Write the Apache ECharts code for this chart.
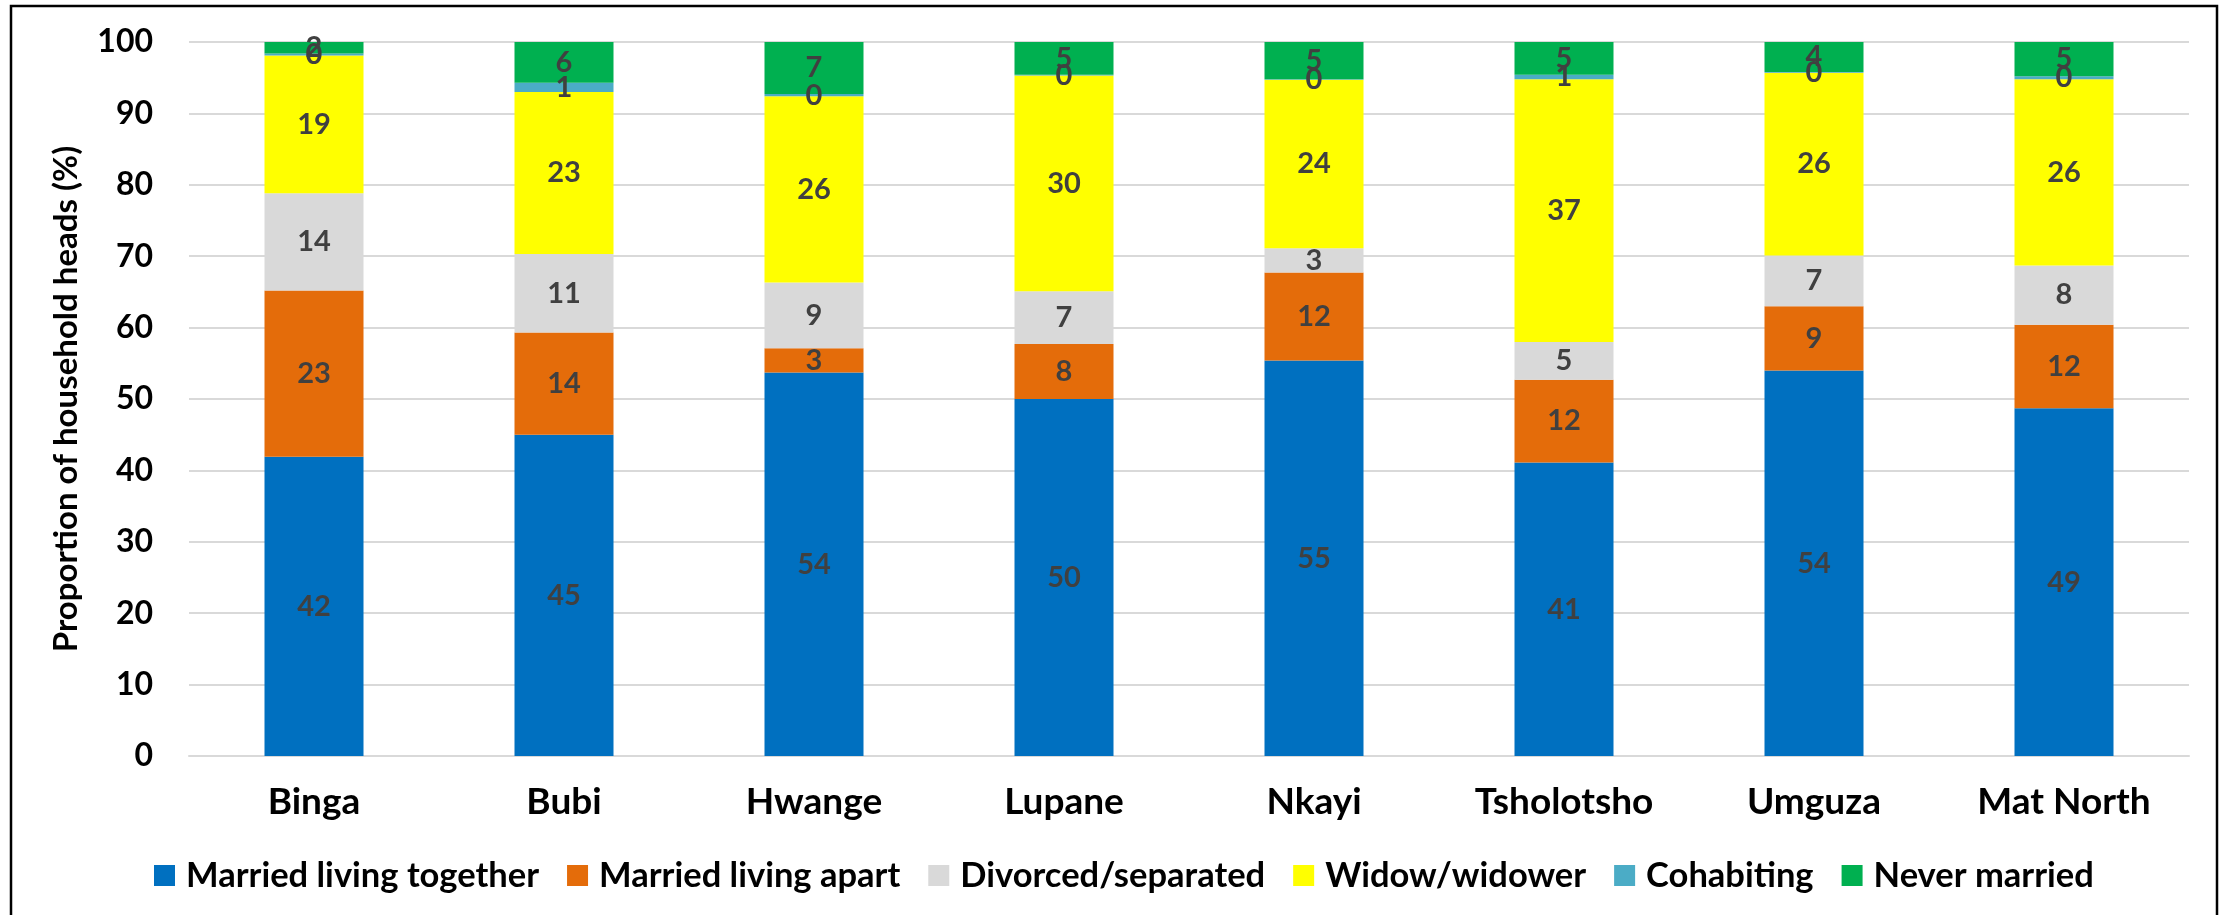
<!DOCTYPE html>
<html>
<head>
<meta charset="utf-8">
<title>Marital status of household heads</title>
<script src="https://cdn.jsdelivr.net/npm/echarts@6/dist/echarts.min.js"></script>
<style>
    html, body { margin: 0; padding: 0; background: #fff; }
    #myChart { width: 2224px; height: 915px; }
</style>
</head>
<body>
<div id="myChart"></div>
<script>
    /////////////////////////
    // data (%)

    var categories = ['Binga', 'Bubi', 'Hwange', 'Lupane', 'Nkayi', 'Tsholotsho', 'Umguza', 'Mat North'];

    var marriedTogether = [41.9, 45.0, 53.7, 50.0, 55.4, 41.1, 54.0, 48.7];
    var marriedApart    = [23.3, 14.3, 3.4, 7.7, 12.3, 11.6, 9.0, 11.7];
    var divorced        = [13.6, 11.0, 9.2, 7.4, 3.4, 5.3, 7.1, 8.3];
    var widowed         = [19.3, 22.7, 26.1, 30.2, 23.6, 36.8, 25.6, 26.1];
    var cohabiting      = [0.3, 1.3, 0.3, 0.1, 0.1, 0.6, 0.1, 0.4];
    var neverMarried    = [1.6, 5.7, 7.3, 4.6, 5.2, 4.6, 4.2, 4.8];

    var yTicks = { min: 0, max: 100, interval: 10 };

    /////////////////////////

    var myChart;
    var FONT = 'Lato';

    function getMyChart() {
        if (myChart != undefined) {
            return myChart;
        }
        myChart = echarts.init(document.getElementById('myChart'), null, { renderer: 'canvas' });
        return myChart;
    }

    // one stacked segment
    function makeSeries(name, data, color) {
        return {
            name: name,
            type: 'bar',
            stack: 'total',
            barWidth: 99,
            data: data,
            itemStyle: { color: color },
            label: {
                show: true,
                position: 'inside',
                color: '#404040',
                fontFamily: FONT,
                fontWeight: 'bold',
                fontSize: 29,
                formatter: function (p) {
                    return Math.round(p.value);
                }
            },
            emphasis: { disabled: true }
        };
    }

    function makeOptions() {
        var option = {
            animation: false,
            backgroundColor: '#fff',
            textStyle: { fontFamily: FONT },
            grid: {
                left: 189,
                right: 35,
                top: 42,
                bottom: 159
            },
            legend: {
                left: 149,
                top: 853,
                itemWidth: 21,
                itemHeight: 21,
                itemGap: 28,
                icon: 'rect',
                textStyle: {
                    fontFamily: FONT,
                    fontWeight: 'bold',
                    fontSize: 34.5,
                    color: '#000',
                    padding: [0, 0, 0, 6]
                },
                data: ['Married living together', 'Married living apart', 'Divorced/separated',
                       'Widow/widower', 'Cohabiting', 'Never married']
            },
            xAxis: {
                type: 'category',
                data: categories,
                axisLine: { lineStyle: { color: '#d9d9d9', width: 2 } },
                axisTick: { show: false },
                axisLabel: {
                    margin: 28,
                    color: '#000',
                    fontFamily: FONT,
                    fontWeight: 'bold',
                    fontSize: 37
                }
            },
            yAxis: {
                type: 'value',
                min: yTicks.min,
                max: yTicks.max,
                interval: yTicks.interval,
                name: 'Proportion of household heads (%)',
                nameLocation: 'middle',
                nameRotate: 90,
                nameGap: 106,
                nameTextStyle: {
                    color: '#000',
                    fontFamily: FONT,
                    fontWeight: 'bold',
                    fontSize: 33
                },
                axisLine: { show: false },
                axisTick: { show: false },
                axisLabel: {
                    margin: 36,
                    color: '#000',
                    fontFamily: FONT,
                    fontWeight: 'bold',
                    fontSize: 32
                },
                splitLine: { lineStyle: { color: '#d9d9d9', width: 2 } }
            },
            graphic: [{
                // outer frame, open at the bottom like the picture
                type: 'rect',
                shape: { x: 11, y: 6, width: 2206, height: 940 },
                style: { fill: null, stroke: '#000', lineWidth: 2.5 },
                silent: true
            }],
            series: [
                makeSeries('Married living together', marriedTogether, '#0070C0'),
                makeSeries('Married living apart', marriedApart, '#E46C0A'),
                makeSeries('Divorced/separated', divorced, '#D9D9D9'),
                makeSeries('Widow/widower', widowed, '#FFFF00'),
                makeSeries('Cohabiting', cohabiting, '#4BACC6'),
                makeSeries('Never married', neverMarried, '#00B050')
            ]
        };
        return option;
    }

    function init() {
        getMyChart().setOption(makeOptions());
    }

    init();
</script>
</body>
</html>
